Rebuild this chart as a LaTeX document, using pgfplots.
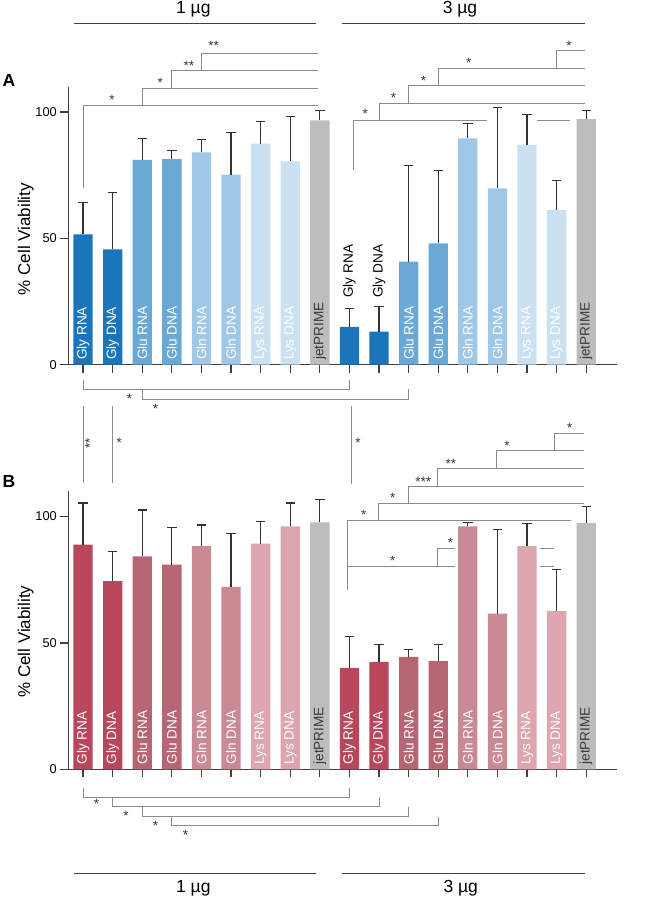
\documentclass[border=0pt]{standalone}
\usepackage{fontspec}
\setmainfont{Liberation Sans}
\usepackage{pgfplots}
\pgfplotsset{compat=1.18}
\definecolor{glyA}{HTML}{1B75BB}
\definecolor{gluA}{HTML}{6AA9D6}
\definecolor{glnA}{HTML}{9EC8E5}
\definecolor{lysA}{HTML}{CAE1F2}
\definecolor{jetc}{HTML}{BDBDBD}
\definecolor{glyB}{HTML}{B8475C}
\definecolor{gluB}{HTML}{B66673}
\definecolor{glnB}{HTML}{C98A93}
\definecolor{lysB}{HTML}{DDA6AE}
\definecolor{axc}{HTML}{404040}
\definecolor{errc}{HTML}{333333}
\definecolor{brc}{HTML}{8A8A8A}
\definecolor{starc}{HTML}{333333}
\definecolor{jettext}{HTML}{3A3A3A}
\pgfplotsset{
  panel/.style={
    anchor=south west, scale only axis, width=549pt, height=278pt,
    xmin=-0.5, xmax=18.05, ymin=0, ymax=110,
    axis lines=left, axis line style={-, line width=1.2pt, draw=axc},
    xtick={0,1,...,17}, xticklabels={}, ytick={0,50,100},
    tick align=outside, major tick length=8pt,
    tick style={line width=1.2pt, draw=axc},
    tick label style={font=\fontsize{12.8}{14}\selectfont, text=black},
    /pgf/number format/assume math mode=true,
    clip=false,
  },
  bars/.style={ybar, bar width=19.3pt, bar shift=0pt, draw=none,
    error bars/y dir=plus, error bars/y explicit,
    error bars/error bar style={line width=1.2pt, draw=errc},
    error bars/error mark options={rotate=90, line width=1.2pt, mark size=4.7pt, draw=errc}},
}
\tikzset{
  br/.style={draw=brc, line width=0.9pt},
  st/.style={font=\fontsize{13.5}{13.5}\selectfont, text=starc, inner sep=0pt},
  lab/.style={rotate=90, anchor=west, inner sep=0pt, font=\fontsize{13.6}{14}\selectfont, text=white},
  grp/.style={draw=axc, line width=1.2pt},
  gtx/.style={font=\fontsize{17.5}{19}\selectfont, text=black},
}
\begin{document}
\begin{tikzpicture}[x=1pt,y=1pt]
\useasboundingbox (0,0) rectangle (662,-899);
% group headers
\draw[grp] (74,-23.3) -- (316,-23.3);
\draw[grp] (342.3,-23.3) -- (585,-23.3);
\node[gtx] at (193.3,-9) {1 µg};
\node[gtx] at (460,-9) {3 µg};
\draw[grp] (74,-873.3) -- (316,-873.3);
\draw[grp] (342.3,-873.3) -- (584.5,-873.3);
\node[gtx] at (193.3,-888.5) {1 µg};
\node[gtx] at (460.7,-888.5) {3 µg};
% panel letters and y labels
\node[font=\fontsize{17.5}{18}\selectfont\bfseries] at (9,-80.5) {A};
\node[font=\fontsize{17.5}{18}\selectfont\bfseries] at (9,-481) {B};
\node[rotate=90, font=\fontsize{17}{18}\selectfont] at (25.7,-239.2) {\% Cell Viability};
\node[rotate=90, font=\fontsize{17}{18}\selectfont] at (25.7,-641.7) {\% Cell Viability};

% ---------------- Panel A ----------------
\begin{axis}[panel, at={(68.3pt,-364.7pt)}]
\addplot[bars, fill=glyA] coordinates {(0,51.6) +- (0,12.6) (1,45.6) +- (0,22.4) (9,15.0) +- (0,7.3) (10,13.1) +- (0,9.9)};
\addplot[bars, fill=gluA] coordinates {(2,81.0) +- (0,8.5) (3,81.3) +- (0,3.4) (11,40.8) +- (0,37.9) (12,48.0) +- (0,28.8)};
\addplot[bars, fill=glnA] coordinates {(4,84.0) +- (0,5.1) (5,75.2) +- (0,16.8) (13,89.6) +- (0,5.8) (14,69.8) +- (0,31.9)};
\addplot[bars, fill=lysA] coordinates {(6,87.5) +- (0,8.7) (7,80.5) +- (0,17.6) (15,86.9) +- (0,12.2) (16,61.2) +- (0,11.8)};
\addplot[bars, fill=jetc] coordinates {(8,96.7) +- (0,3.8) (17,97.2) +- (0,3.5)};
% bar labels
\node[lab] at (axis cs:0,1.8) {Gly RNA};
\node[lab] at (axis cs:1,1.8) {Gly DNA};
\node[lab] at (axis cs:2,1.8) {Glu RNA};
\node[lab] at (axis cs:3,1.8) {Glu DNA};
\node[lab] at (axis cs:4,1.8) {Gln RNA};
\node[lab] at (axis cs:5,1.8) {Gln DNA};
\node[lab] at (axis cs:6,1.8) {Lys RNA};
\node[lab] at (axis cs:7,1.8) {Lys DNA};
\node[lab, text=jettext] at (axis cs:8,1.8) {jetPRIME};
\node[lab, text=black] at (axis cs:9,26.4) {Gly RNA};
\node[lab, text=black] at (axis cs:10,26.4) {Gly DNA};
\node[lab] at (axis cs:11,1.8) {Glu RNA};
\node[lab] at (axis cs:12,1.8) {Glu DNA};
\node[lab] at (axis cs:13,1.8) {Gln RNA};
\node[lab] at (axis cs:14,1.8) {Gln DNA};
\node[lab] at (axis cs:15,1.8) {Lys RNA};
\node[lab] at (axis cs:16,1.8) {Lys DNA};
\node[lab, text=jettext] at (axis cs:17,1.8) {jetPRIME};
% top-left staircase
\draw[br] (axis cs:0,69.8) -- (axis cs:0,102.65) -- (axis cs:7.95,102.65);
\draw[br] (axis cs:2,102.65) -- (axis cs:2,109.4) -- (axis cs:7.95,109.4);
\draw[br] (axis cs:3,109.4) -- (axis cs:3,116.3) -- (axis cs:7.95,116.3);
\draw[br] (axis cs:4,116.3) -- (axis cs:4,123.2) -- (axis cs:7.95,123.2);
\node[st] at (axis cs:0.98,104.6) {*};
\node[st] at (axis cs:2.61,111.4) {*};
\node[st] at (axis cs:3.57,118.3) {**};
\node[st] at (axis cs:4.41,126.2) {**};
% top-right staircase
\draw[br] (axis cs:9.15,77.0) -- (axis cs:9.15,96.8) -- (axis cs:13.65,96.8);
\draw[br] (axis cs:15.34,96.8) -- (axis cs:16.44,96.8);
\draw[br] (axis cs:10,96.8) -- (axis cs:10,103.4) -- (axis cs:16.97,103.4);
\draw[br] (axis cs:11,103.4) -- (axis cs:11,110.4) -- (axis cs:16.97,110.4);
\draw[br] (axis cs:12,110.4) -- (axis cs:12,117.3) -- (axis cs:16.97,117.3);
\draw[br] (axis cs:16,117.3) -- (axis cs:16,124.4) -- (axis cs:16.97,124.4);
\node[st] at (axis cs:9.53,99.2) {*};
\node[st] at (axis cs:10.49,105.4) {*};
\node[st] at (axis cs:11.5,112.3) {*};
\node[st] at (axis cs:13.03,119.3) {*};
\node[st] at (axis cs:16.42,126.2) {*};
% bottom brackets
\draw[br] (axis cs:0,-6.05) -- (axis cs:0,-9.7) -- (axis cs:9,-9.7) -- (axis cs:9,-6.05);
\draw[br] (axis cs:2,-9.7) -- (axis cs:2,-13.6) -- (axis cs:11,-13.6) -- (axis cs:11,-9.7);
\node[st] at (axis cs:1.57,-13.7) {*};
\node[st] at (axis cs:2.45,-17.3) {*};
% verticals between panels
\draw[br] (axis cs:0,-16.2) -- (axis cs:0,-46.7);
\draw[br] (axis cs:1,-16.2) -- (axis cs:1,-46.7);
\draw[br] (axis cs:9.06,-16.2) -- (axis cs:9.06,-47.3);
\node[st, rotate=90] at (axis cs:0.22,-31) {**};
\node[st] at (axis cs:1.22,-31) {*};
\node[st] at (axis cs:9.29,-31) {*};
\end{axis}

% ---------------- Panel B ----------------
\begin{axis}[panel, at={(68.3pt,-769.3pt)}]
\addplot[bars, fill=glyB] coordinates {(0,88.9) +- (0,16.5) (1,74.5) +- (0,11.8) (9,40.1) +- (0,12.5) (10,42.5) +- (0,7.0)};
\addplot[bars, fill=gluB] coordinates {(2,84.3) +- (0,18.3) (3,81.0) +- (0,14.8) (11,44.5) +- (0,2.9) (12,42.8) +- (0,6.7)};
\addplot[bars, fill=glnB] coordinates {(4,88.3) +- (0,8.4) (5,72.2) +- (0,21.0) (13,96.1) +- (0,1.6) (14,61.6) +- (0,33.4)};
\addplot[bars, fill=lysB] coordinates {(6,89.3) +- (0,8.8) (7,96.1) +- (0,9.3) (15,88.3) +- (0,9.1) (16,62.6) +- (0,16.4)};
\addplot[bars, fill=jetc] coordinates {(8,97.7) +- (0,9.0) (17,97.5) +- (0,6.4)};
\node[lab] at (axis cs:0,1.8) {Gly RNA};
\node[lab] at (axis cs:1,1.8) {Gly DNA};
\node[lab] at (axis cs:2,1.8) {Glu RNA};
\node[lab] at (axis cs:3,1.8) {Glu DNA};
\node[lab] at (axis cs:4,1.8) {Gln RNA};
\node[lab] at (axis cs:5,1.8) {Gln DNA};
\node[lab] at (axis cs:6,1.8) {Lys RNA};
\node[lab] at (axis cs:7,1.8) {Lys DNA};
\node[lab, text=jettext] at (axis cs:8,1.8) {jetPRIME};
\node[lab] at (axis cs:9,1.8) {Gly RNA};
\node[lab] at (axis cs:10,1.8) {Gly DNA};
\node[lab] at (axis cs:11,1.8) {Glu RNA};
\node[lab] at (axis cs:12,1.8) {Glu DNA};
\node[lab] at (axis cs:13,1.8) {Gln RNA};
\node[lab] at (axis cs:14,1.8) {Gln DNA};
\node[lab] at (axis cs:15,1.8) {Lys RNA};
\node[lab] at (axis cs:16,1.8) {Lys DNA};
\node[lab, text=jettext] at (axis cs:17,1.8) {jetPRIME};
% top staircase
\draw[br] (axis cs:8.94,70.8) -- (axis cs:8.94,98.4) -- (axis cs:16.49,98.4);
\draw[br] (axis cs:9.97,98.4) -- (axis cs:9.97,105.3) -- (axis cs:16.94,105.3);
\draw[br] (axis cs:10.98,105.3) -- (axis cs:10.98,112.1) -- (axis cs:16.94,112.1);
\draw[br] (axis cs:11.96,112.1) -- (axis cs:11.96,119.2) -- (axis cs:16.94,119.2);
\draw[br] (axis cs:13.95,119.2) -- (axis cs:13.95,126.1) -- (axis cs:16.94,126.1);
\draw[br] (axis cs:15.93,126.1) -- (axis cs:15.93,132.9) -- (axis cs:16.94,132.9);
\node[st] at (axis cs:9.48,100.8) {*};
\node[st] at (axis cs:10.46,107.4) {*};
\node[st] at (axis cs:11.49,113.9) {***};
\node[st] at (axis cs:12.43,121.0) {**};
\node[st] at (axis cs:14.32,127.8) {*};
\node[st] at (axis cs:16.44,135.0) {*};
% lower brackets
\draw[br] (axis cs:8.94,80.3) -- (axis cs:12.55,80.3);
\draw[br] (axis cs:11.96,80.3) -- (axis cs:11.96,87.2) -- (axis cs:12.58,87.2);
\draw[br] (axis cs:15.45,87.2) -- (axis cs:15.92,87.2);
\draw[br] (axis cs:15.45,80.3) -- (axis cs:15.92,80.3);
\node[st] at (axis cs:10.46,82.4) {*};
\node[st] at (axis cs:12.41,89.5) {*};
% bottom brackets
\draw[br] (axis cs:0,-7.5) -- (axis cs:0,-11.05) -- (axis cs:9,-11.05) -- (axis cs:9,-7.5);
\draw[br] (axis cs:1,-11.05) -- (axis cs:1,-14.8) -- (axis cs:10,-14.8) -- (axis cs:10,-11.05);
\draw[br] (axis cs:2,-14.8) -- (axis cs:2,-18.7) -- (axis cs:11,-18.7) -- (axis cs:11,-14.8);
\draw[br] (axis cs:3,-18.7) -- (axis cs:3,-22.4) -- (axis cs:12,-22.4) -- (axis cs:12,-18.7);
\node[st] at (axis cs:0.45,-13.8) {*};
\node[st] at (axis cs:1.45,-18.4) {*};
\node[st] at (axis cs:2.45,-22.3) {*};
\node[st] at (axis cs:3.46,-26.1) {*};
\end{axis}
\end{tikzpicture}
\end{document}
